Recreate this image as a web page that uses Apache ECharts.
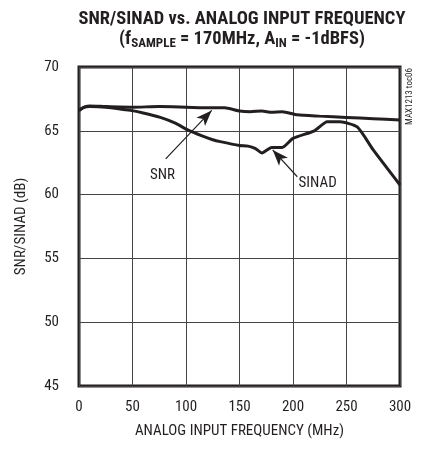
<!DOCTYPE html>
<html><head><meta charset="utf-8">
<script src="https://cdn.jsdelivr.net/npm/echarts@6/dist/echarts.min.js"></script>
<style>html,body{margin:0;padding:0;background:#fff}#c{width:423px;height:449px}</style>
</head><body><div id="c"></div>
<script>
const snrX   = [0, 5, 10, 25, 50, 75, 100, 124, 136, 150, 160, 171, 180, 190, 204, 225, 250, 275, 300];
const snrY   = [66.6, 66.85, 66.95, 66.9, 66.85, 66.9, 66.85, 66.8, 66.8, 66.55, 66.5, 66.55, 66.45, 66.5, 66.25, 66.15, 66.05, 65.95, 65.85];
const sinadX = [0, 5, 10, 25, 48, 60, 76, 90, 102, 115, 125, 132, 150, 158, 165, 171, 180, 190, 200, 220, 232, 244, 260, 275, 300];
const sinadY = [66.6, 66.85, 66.9, 66.85, 66.6, 66.4, 66.05, 65.6, 65.05, 64.6, 64.3, 64.15, 63.85, 63.8, 63.6, 63.26, 63.7, 63.7, 64.4, 65.0, 65.7, 65.7, 65.3, 63.5, 60.75];
const xTicks = [0, 50, 100, 150, 200, 250, 300];
const yTicks = [45, 50, 55, 60, 65, 70];

const font = "'Liberation Sans Narrow', 'Roboto Condensed', 'Liberation Sans', sans-serif";
const ink = '#231f20';
const chart = echarts.init(document.getElementById('c'));
chart.setOption({
  animation: false,
  backgroundColor: '#fff',
  title: [{
    text: 'SNR/SINAD vs. ANALOG INPUT FREQUENCY',
    left: 237, top: 5, textAlign: 'center',
    textStyle: {fontFamily: font, fontWeight: 'bold', fontSize: 18.5, color: ink}
  }, {
    text: '{a|(f}{s|SAMPLE}{a| = 170MHz, A}{s|IN}{a| = -1dBFS)}',
    left: 237, top: 24, textAlign: 'center',
    textStyle: {rich: {
      a: {fontFamily: font, fontWeight: 'bold', fontSize: 18.5, color: ink},
      s: {fontFamily: font, fontWeight: 'bold', fontSize: 13, color: ink, padding: [8, 0, 0, 0]}
    }}
  }],
  graphic: [{
    type: 'text', left: 405, top: 68, rotation: Math.PI / 2,
    style: {text: 'MAX1213 toc06', fontFamily: font, fontSize: 9, fill: ink}
  }],
  grid: {left: 79, right: 23, top: 67, bottom: 63, show: true, borderColor: ink, borderWidth: 3},
  xAxis: {
    type: 'value', min: 0, max: 300, interval: 50,
    name: 'ANALOG INPUT FREQUENCY (MHz)', nameLocation: 'middle', nameGap: 38,
    nameTextStyle: {fontFamily: font, fontSize: 15, color: ink},
    axisLine: {show: false}, axisTick: {show: false},
    axisLabel: {fontFamily: font, fontSize: 15, color: ink, margin: 14,
      formatter: v => xTicks.includes(v) ? String(v) : ''},
    splitLine: {lineStyle: {color: '#444', width: 1}}
  },
  yAxis: {
    type: 'value', min: 45, max: 70, interval: 5,
    name: 'SNR/SINAD (dB)', nameLocation: 'middle', nameGap: 50,
    nameTextStyle: {fontFamily: font, fontSize: 15, color: ink},
    axisLine: {show: false}, axisTick: {show: false},
    axisLabel: {fontFamily: font, fontSize: 15, color: ink, margin: 20,
      formatter: v => yTicks.includes(v) ? String(v) : ''},
    splitLine: {lineStyle: {color: '#444', width: 1}}
  },
  series: [{
    name: 'SNR', type: 'line', showSymbol: false, smooth: 0.2,
    data: snrX.map((x, i) => [x, snrY[i]]),
    lineStyle: {color: ink, width: 3},
    markLine: {
      silent: true, symbol: ['none', 'arrow'], symbolSize: [9, 16],
      lineStyle: {color: ink, width: 1.2, type: 'solid'}, label: {show: false},
      data: [[{coord: [81, 62.8]}, {coord: [124, 66.6]}]]
    },
    markPoint: {
      symbol: 'circle', symbolSize: 0,
      label: {show: true, formatter: 'SNR', fontFamily: font, fontSize: 15, color: ink},
      data: [{coord: [78, 61.5]}]
    }
  }, {
    name: 'SINAD', type: 'line', showSymbol: false, smooth: 0.2,
    data: sinadX.map((x, i) => [x, sinadY[i]]),
    lineStyle: {color: ink, width: 3},
    markLine: {
      silent: true, symbol: ['none', 'arrow'], symbolSize: [9, 16],
      lineStyle: {color: ink, width: 1.2, type: 'solid'}, label: {show: false},
      data: [[{coord: [204, 61.4]}, {coord: [181, 63.5]}]]
    },
    markPoint: {
      symbol: 'circle', symbolSize: 0,
      label: {show: true, formatter: 'SINAD', fontFamily: font, fontSize: 15, color: ink},
      data: [{coord: [223, 60.9]}]
    }
  }]
});
</script></body></html>
